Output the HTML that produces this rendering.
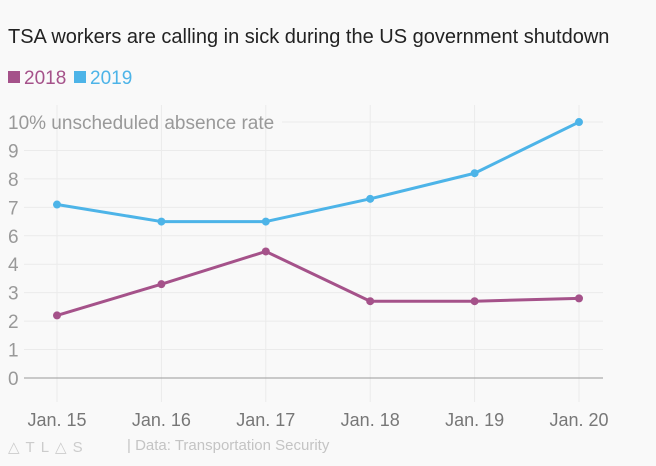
<!DOCTYPE html>
<html><head><meta charset="utf-8"><style>
body{margin:0;background:#f9f9f9;font-family:"Liberation Sans",sans-serif;}
svg{display:block}
</style></head><body>
<svg id="c" width="656" height="466" xmlns="http://www.w3.org/2000/svg">
<rect width="656" height="466" fill="#f9f9f9"/>
<text x="8" y="43" font-size="20" fill="#222">TSA workers are calling in sick during the US government shutdown</text>
<g>
<rect x="8" y="71" width="12" height="12" fill="#a5528a"/>
<text x="24" y="84" font-size="19" fill="#a5528a">2018</text>
<rect x="74" y="71" width="12" height="12" fill="#4db4e8"/>
<text x="90" y="84" font-size="19" fill="#4db4e8">2019</text>
</g>
<g id="grid"></g><g id="marks"></g>
<text x="8" y="452" font-size="15" fill="#ccc" letter-spacing="6">△TL△S</text>
<text x="127" y="450" font-size="15" fill="#c4c4c4">| Data: Transportation Security</text>
</svg>
<script>
const categories=["Jan. 15","Jan. 16","Jan. 17","Jan. 18","Jan. 19","Jan. 20"];
const values2018=[2.2,3.3,4.9,2.7,2.7,2.8];
const values2019=[7.1,6.5,6.5,7.3,8.2,10.0];
const yTicks=[0,1,2,3,4,6,7,8,9,10];
const yTickLabels=["0","1","2","3","4","6","7","8","9","10% unscheduled absence rate"];
const NS="http://www.w3.org/2000/svg";
const y0=378,step=28.44,x0=57,xs=104.4;
function xPos(i){return x0+i*xs;}
function yPos(v){
  for(let i=0;i<yTicks.length-1;i++){
    if(v<=yTicks[i+1]){return y0-(i+(v-yTicks[i])/(yTicks[i+1]-yTicks[i]))*step;}
  }
  return y0-(yTicks.length-1)*step;
}
function mk(t,a,p){const e=document.createElementNS(NS,t);for(const k in a)e.setAttribute(k,a[k]);p.appendChild(e);return e;}
const g=document.getElementById('grid'),m=document.getElementById('marks');
categories.forEach((c,i)=>{
  const l=mk('line',{x1:xPos(i),x2:xPos(i),y1:105,y2:402,stroke:'#ebebeb','stroke-width':1},g);
  
  
  const t=mk('text',{x:xPos(i),y:426,'font-size':18,fill:'#777','text-anchor':'middle'},g);
  t.textContent=c;
  
  
});
yTicks.forEach((v,i)=>{
  const y=yPos(v);
  const lbl=yTickLabels[i];
  const tx=mk('text',{x:8,y:y+7,'font-size':19,fill:'#999'},g);
  tx.textContent=lbl;
  
  
  const sx=lbl.length>3?282:24;
  const l=mk('line',{x1:sx,x2:603,y1:y,y2:y,stroke:v===0?'#999':'#ebebeb','stroke-width':1},g);
  
  
});
function series(vals,color,name){
  const pts=vals.map((v,i)=>xPos(i)+','+yPos(v)).join(' ');
  const pl=mk('polyline',{points:pts,fill:'none',stroke:color,'stroke-width':3,'stroke-linejoin':'round'},m);
  
  
  vals.forEach((v,i)=>{
    const c=mk('circle',{cx:xPos(i),cy:yPos(v),r:4,fill:color},m);
    
    
  });
}
series(values2018,'#a5528a','2018');
series(values2019,'#4db4e8','2019');
</script>
</body></html>
